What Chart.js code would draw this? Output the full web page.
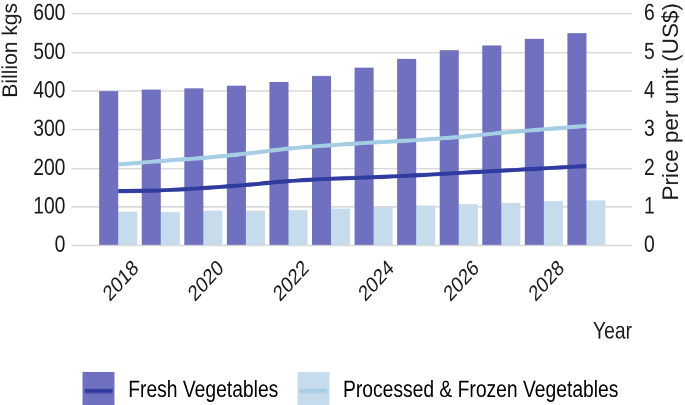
<!DOCTYPE html>
<html>
<head>
<meta charset="utf-8">
<script src="https://cdn.jsdelivr.net/npm/chart.js@4/dist/chart.umd.min.js"></script>
<style>
  html, body { margin: 0; padding: 0; background: #fff; overflow: hidden; }
  body { width: 685px; height: 405px; position: relative; }
  #wrap { position: absolute; left: 0; top: 0; width: 685px; transform-origin: 0 0; }
  #grafico { display: block; }
</style>
</head>
<body>
<div id="wrap"><canvas id="grafico"></canvas></div>
<script>
// Dados
const anos = [2018, 2019, 2020, 2021, 2022, 2023, 2024, 2025, 2026, 2027, 2028, 2029];
const anosRotulo = [2018, 2020, 2022, 2024, 2026, 2028];
const volumeFrescos = [400, 404, 407, 414, 424, 439, 461, 483, 506, 518, 535, 550];
const volumeProcessados = [88, 87, 90, 90, 92, 96, 99, 104, 108, 110, 115, 117];
const precoFrescos = [1.41, 1.43, 1.49, 1.57, 1.67, 1.73, 1.77, 1.82, 1.88, 1.94, 2.00, 2.06];
const precoProcessados = [2.10, 2.19, 2.27, 2.38, 2.51, 2.60, 2.67, 2.73, 2.81, 2.92, 3.01, 3.10];
const nomesSeries = ['Fresh Vegetables', 'Processed & Frozen Vegetables'];

// O original usa uma fonte estreita; esticamos o gráfico na vertical para imitar
const K = 1.22;
const ALTURA = 340;
const FONTE = "'Liberation Sans', Arial, sans-serif";
const corTexto = '#1a1a1a';
const corFrescoBarra = '#7070c0';
const corProcBarra = '#c6dcec';
const corFrescoLinha = '#2f3b9e';
const corProcLinha = '#a5cee4';

const wrap = document.getElementById('wrap');
wrap.style.height = ALTURA + 'px';
wrap.style.transform = 'scale(1,' + K + ')';
const canvas = document.getElementById('grafico');
canvas.width = 685;
canvas.height = ALTURA;
canvas.style.width = '685px';
canvas.style.height = ALTURA + 'px';

Chart.defaults.font.family = FONTE;
Chart.defaults.font.size = 19.3;
Chart.defaults.color = corTexto;

function pontos(valores) {
    return anos.map((ano, i) => ({ x: ano, y: valores[i] }));
}

// Ícone da legenda: quadrado da barra com a linha por cima
function iconeLegenda(corBarra, corLinha) {
    const c = document.createElement('canvas');
    c.width = 32;
    c.height = 31;
    const g = c.getContext('2d');
    g.fillStyle = corBarra;
    g.fillRect(0, 0, 32, 31);
    g.fillStyle = corLinha;
    g.fillRect(2, 14, 28, 3.3);
    return c;
}

// Títulos dos eixos verticais, lidos de baixo para cima, sem o esticão
function tituloVertical(ctx, texto, x, yTopo, tamanho) {
    ctx.save();
    ctx.translate(x, yTopo);
    ctx.scale(1, 1 / K);
    ctx.rotate(-Math.PI / 2);
    ctx.font = tamanho + 'px ' + FONTE;
    ctx.fillStyle = corTexto;
    ctx.textAlign = 'right';
    ctx.textBaseline = 'middle';
    ctx.fillText(texto, 0, 0);
    ctx.restore();
}

const titulosEixos = {
    id: 'titulosEixos',
    afterLayout(chart) {
        // a legenda do original fica um pouco à direita do centro
        chart.legend.left += 6;
        chart.legend.right += 6;
    },
    afterDraw(chart) {
        const topo = chart.chartArea.top;
        tituloVertical(chart.ctx, 'Billion kgs', 11, topo, 21);
        tituloVertical(chart.ctx, 'Price per unit (US$)', 672, topo, 22.5);
    }
};

function semMargem(eixo) {
    eixo.paddingTop = 0;
    eixo.paddingBottom = 0;
    eixo.paddingLeft = 0;
    eixo.paddingRight = 0;
}

const chart = new Chart(canvas.getContext('2d'), {
    data: {
        datasets: [
            { type: 'line', label: nomesSeries[0], data: pontos(precoFrescos), yAxisID: 'y1',
              borderColor: corFrescoLinha, borderWidth: 3.3, pointRadius: 0, tension: 0.3 },
            { type: 'line', label: nomesSeries[1], data: pontos(precoProcessados), yAxisID: 'y1',
              borderColor: corProcLinha, borderWidth: 3.3, pointRadius: 0, tension: 0.3 },
            { type: 'bar', label: nomesSeries[0], data: pontos(volumeFrescos), yAxisID: 'y',
              backgroundColor: corFrescoBarra, categoryPercentage: 0.895, barPercentage: 1 },
            { type: 'bar', label: nomesSeries[1], data: pontos(volumeProcessados), yAxisID: 'y',
              backgroundColor: corProcBarra, categoryPercentage: 0.895, barPercentage: 1 }
        ]
    },
    options: {
        responsive: false,
        animation: false,
        devicePixelRatio: 2,
        layout: { autoPadding: false, padding: { top: 3 / K, left: 0, right: 0, bottom: 0 } },
        plugins: {
            tooltip: { enabled: false },
            legend: {
                position: 'bottom',
                labels: {
                    usePointStyle: true,
                    pointStyleWidth: 40,
                    padding: 15,
                    generateLabels: () => [
                        { text: nomesSeries[0], pointStyle: iconeLegenda(corFrescoBarra, corFrescoLinha),
                          fillStyle: corFrescoBarra, strokeStyle: corFrescoBarra, lineWidth: 0, hidden: false, datasetIndex: 2 },
                        { text: nomesSeries[1], pointStyle: iconeLegenda(corProcBarra, corProcLinha),
                          fillStyle: corProcBarra, strokeStyle: corProcBarra, lineWidth: 0, hidden: false, datasetIndex: 3 }
                    ]
                }
            }
        },
        scales: {
            x: {
                type: 'linear',
                offset: false,
                min: 2016.9,
                max: 2030.07,
                grid: { display: false, offset: false },
                border: { display: false },
                afterBuildTicks: (eixo) => { eixo.ticks = anosRotulo.map(v => ({ value: v })); },
                afterFit: (eixo) => { semMargem(eixo); eixo.height += 7.4; },
                ticks: {
                    minRotation: 42,
                    maxRotation: 42,
                    autoSkip: false,
                    labelOffset: 18,
                    padding: 0,
                    font: { size: 18 },
                    callback: (v) => String(v)
                },
                title: { display: true, text: 'Year', align: 'end', padding: { top: 1, bottom: 12 } }
            },
            y: {
                position: 'left',
                min: 0,
                max: 628,
                grid: { color: '#d9d9d9', lineWidth: 1.2, drawTicks: false },
                border: { display: false },
                afterFit: (eixo) => { semMargem(eixo); eixo.width = 71.4; },
                ticks: {
                    stepSize: 50,
                    includeBounds: false,
                    padding: 6,
                    callback: (v) => (v % 100 === 0 ? v : '')
                },
                title: { display: true, text: ' ', padding: { top: 4, bottom: 6 } }
            },
            y1: {
                position: 'right',
                min: 0,
                max: 6.28,
                grid: { display: false, drawTicks: false },
                border: { display: false },
                afterFit: (eixo) => { semMargem(eixo); eixo.width = 53; },
                ticks: {
                    stepSize: 0.5,
                    includeBounds: false,
                    padding: 12,
                    callback: (v) => (Number.isInteger(v) ? v : '')
                },
                title: { display: true, text: ' ', padding: { top: 7, bottom: 0 } }
            }
        }
    },
    plugins: [titulosEixos]
});
</script>
</body>
</html>
